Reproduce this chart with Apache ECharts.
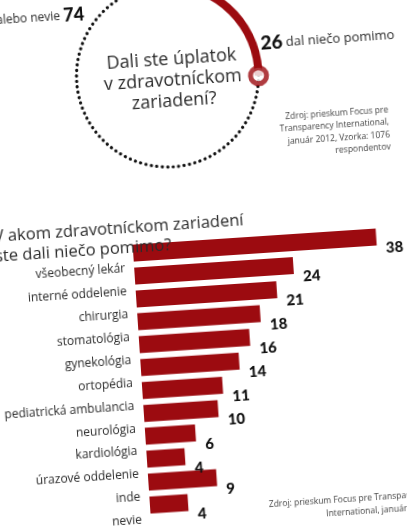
<!DOCTYPE html>
<html>
<head>
<meta charset="utf-8">
<script src="https://cdn.jsdelivr.net/npm/echarts@6/dist/echarts.min.js"></script>
<style>
  html, body { margin: 0; padding: 0; background: #fff; overflow: hidden; }
  #chart {
    position: absolute;
    left: -30px;
    top: -30px;
    width: 520px;
    height: 590px;
    transform-origin: 233.5px 293px;
    transform: rotate(-3.8deg);
  }
</style>
</head>
<body>
<div id="chart"></div>
<script>
// kruh: dal / nedal
const ringLabels = ['dal niečo pomimo', 'alebo nevie']
const ringValues = [26, 74]

// stĺpce: kde ste dali niečo pomimo
const categories = [
  'všeobecný lekár', 'interné oddelenie', 'chirurgia', 'stomatológia',
  'gynekológia', 'ortopédia', 'pediatrická ambulancia', 'neurológia',
  'kardiológia', 'úrazové oddelenie', 'inde', 'nevie'
]
const values = [38, 24, 21, 18, 16, 14, 11, 10, 6, 4, 9, 4]

const red = '#9c0b10'
const ink = '#2b2b2b'
const font = '"Open Sans", sans-serif'

const chart = echarts.init(document.getElementById('chart'))

const option = {
  animation: false,
  backgroundColor: '#fff',
  polar: { center: [210, 104], radius: 91 },
  angleAxis: {
    type: 'value',
    min: 0,
    max: 100,
    startAngle: 90,
    axisLine: {
      show: true,
      lineStyle: { color: '#111', width: 3.2, type: [0.1, 5.4], cap: 'round' }
    },
    axisTick: { show: false },
    axisLabel: { show: false },
    splitLine: { show: false }
  },
  radiusAxis: { type: 'value', min: 0, max: 1, show: false },
  grid: { left: 164, right: 100.4, top: 267, bottom: 47.6 },
  xAxis: {
    type: 'value',
    min: -2.32,
    max: 40,
    startValue: -2.32,
    show: false
  },
  yAxis: {
    type: 'category',
    inverse: true,
    data: categories,
    axisLine: { show: false },
    axisTick: { show: false },
    axisLabel: {
      interval: 0,
      showMinLabel: true,
      showMaxLabel: true,
      hideOverlap: false,
      margin: 9,
      verticalAlign: 'top',
      lineHeight: 30,
      color: ink,
      fontFamily: font,
      fontSize: 12
    }
  },
  graphic: [
    {
      type: 'text',
      style: {
        x: 215, y: 109,
        text: 'Dali ste úplatok\nv zdravotníckom\nzariadení?',
        font: '18px "Open Sans", sans-serif',
        lineHeight: 21,
        fill: ink,
        align: 'center',
        verticalAlign: 'middle'
      }
    },
    {
      type: 'text',
      style: {
        x: 305, y: 78,
        text: '{b|' + ringValues[0] + '} {t|' + ringLabels[0] + '}',
        align: 'left',
        verticalAlign: 'middle',
        rich: {
          b: { fontFamily: 'Lato', fontWeight: 900, fontSize: 19, fill: '#111' },
          t: { fontFamily: font, fontSize: 13, fill: ink }
        }
      }
    },
    {
      type: 'text',
      style: {
        x: 131, y: 37.5,
        text: '{t|' + ringLabels[1] + '} {b|' + ringValues[1] + '}',
        align: 'right',
        verticalAlign: 'middle',
        rich: {
          b: { fontFamily: 'Lato', fontWeight: 900, fontSize: 18, fill: '#111' },
          t: { fontFamily: font, fontSize: 12, fill: ink }
        }
      }
    },
    {
      type: 'text',
      style: {
        x: 428, y: 171,
        text: 'Zdroj: prieskum Focus pre\nTransparency International,\njanuár 2012, Vzorka: 1076\nrespondentov',
        font: '8.5px "Open Sans", sans-serif',
        lineHeight: 12.3,
        fill: '#444',
        align: 'right',
        verticalAlign: 'middle'
      }
    },
    {
      type: 'text',
      z: 10,
      style: {
        x: 26, y: 263,
        text: 'V akom zdravotníckom zariadení\nste dali niečo pomimo?',
        font: '16.5px "Open Sans", sans-serif',
        lineHeight: 20,
        fill: ink,
        align: 'left',
        verticalAlign: 'middle'
      }
    },
    {
      type: 'text',
      style: {
        x: 442, y: 545,
        text: 'Zdroj: prieskum Focus pre Transparency\nInternational, január 2012',
        font: '8.5px "Open Sans", sans-serif',
        lineHeight: 13,
        fill: '#444',
        align: 'right',
        verticalAlign: 'middle'
      }
    }
  ],
  series: [
    {
      type: 'pie',
      center: [210, 104],
      radius: [87, 95],
      startAngle: 90,
      silent: true,
      label: { show: false },
      labelLine: { show: false },
      data: [
        { name: ringLabels[0], value: ringValues[0], itemStyle: { color: red } },
        { name: ringLabels[1], value: ringValues[1], itemStyle: { color: 'rgba(0,0,0,0)' } }
      ]
    },
    {
      type: 'scatter',
      coordinateSystem: 'polar',
      z: 5,
      silent: true,
      symbol: 'circle',
      symbolSize: 16,
      itemStyle: { color: '#fff', borderColor: red, borderWidth: 5 },
      data: [[1, ringValues[0]]]
    },
    {
      type: 'bar',
      data: values,
      barWidth: 17,
      silent: true,
      itemStyle: { color: red },
      label: {
        show: true,
        position: 'right',
        distance: 0,
        offset: [9, 12],
        color: '#111',
        fontFamily: 'Lato',
        fontWeight: 900,
        fontSize: 15
      }
    }
  ]
}

chart.setOption(option)
</script>
</body>
</html>
